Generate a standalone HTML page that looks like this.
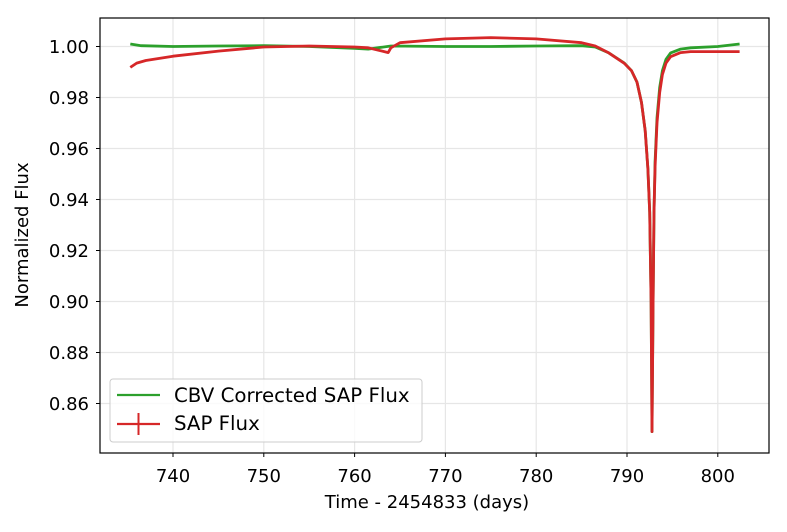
<!DOCTYPE html>
<html><head><meta charset="utf-8"><style>
body{margin:0;background:#fff}
svg text{font-family:"DejaVu Sans","Liberation Sans",sans-serif;fill:#000}
</style></head><body>
<svg width="787" height="527">
<g id="grid"></g>
<g id="series"></g>
<rect x="100" y="18" width="669" height="435" fill="none" stroke="#000" stroke-width="1.2"/>
<g id="ticks"></g>
<text x="427" y="508" font-size="18" text-anchor="middle">Time - 2454833 (days)</text>
<text transform="translate(28,235) rotate(-90)" font-size="18" text-anchor="middle">Normalized Flux</text>
<g>
<rect x="110" y="379" width="312" height="63" rx="3" fill="#fff" fill-opacity="0.8" stroke="#ccc"/>
<line x1="117" y1="395" x2="160" y2="395" stroke="#2ca02c" stroke-width="2.2"/>
<text x="174" y="402" font-size="19.8">CBV Corrected SAP Flux</text>
<line x1="117" y1="424" x2="160" y2="424" stroke="#d62728" stroke-width="2.2"/>
<line x1="138.5" y1="413" x2="138.5" y2="435" stroke="#d62728" stroke-width="2"/>
<text x="174" y="430" font-size="19.8">SAP Flux</text>
</g>
</svg>
<script>
const xTicks=[740,750,760,770,780,790,800];
const yTicks=[0.86,0.88,0.90,0.92,0.94,0.96,0.98,1.00];
const yTickLabels=["0.86","0.88","0.90","0.92","0.94","0.96","0.98","1.00"];
const cbvTime=[735.3,736.5,740,745,750,755,760,761.5,764,770,775,780,785,786.5,788,789.7,790.5,791.1,791.6,792.0,792.3,792.5,792.65,792.75,792.87,792.97,793.1,793.3,793.6,793.9,794.3,794.8,795.9,797,800,802.4];
const cbvFlux=[1.0010,1.0003,1.0000,1.0002,1.0003,1.0000,0.9993,0.9990,1.0002,1.0000,1.0000,1.0002,1.0003,0.9998,0.9975,0.9935,0.9905,0.986,0.978,0.967,0.952,0.935,0.900,0.849,0.900,0.935,0.955,0.972,0.984,0.9905,0.9950,0.9975,0.9990,0.9995,1.0000,1.0010];
const sapTime=[735.3,736,737,740,745,750,755,760,761.5,763.7,764,765,770,775,780,785,786.5,788,789.7,790.5,791.1,791.6,792.0,792.3,792.5,792.65,792.75,792.87,792.97,793.1,793.3,793.6,793.9,794.3,794.8,795.9,797,802.4];
const sapFlux=[0.9918,0.9935,0.9945,0.9962,0.9982,0.9998,1.0002,0.9998,0.9995,0.9976,0.9995,1.0015,1.0030,1.0035,1.0030,1.0015,1.0002,0.9975,0.9934,0.9905,0.986,0.978,0.967,0.952,0.935,0.900,0.849,0.900,0.935,0.953,0.970,0.982,0.9890,0.9935,0.9960,0.9976,0.9980,0.9980];
const NS="http://www.w3.org/2000/svg";
function xs(v){return 173+(v-740)*9.08;}
function ys(v){return 46.5+(1-v)*2550;}
const grid=document.getElementById('grid'),ticks=document.getElementById('ticks'),series=document.getElementById('series');
function mk(t,a,p){const e=document.createElementNS(NS,t);for(const k in a)e.setAttribute(k,a[k]);p.appendChild(e);return e;}
xTicks.forEach(v=>{const x=xs(v);
 const g=mk('line',{x1:x,x2:x,y1:18,y2:453,stroke:'#e6e6e6','stroke-width':1.2},grid);
 
 
 const t=mk('line',{x1:x,x2:x,y1:453,y2:457,stroke:'#000'},ticks);
 
 
 const l=mk('text',{x:x,y:482,'font-size':18,'text-anchor':'middle'},ticks);l.textContent=v;
 
 
});
yTicks.forEach((v,i)=>{const y=ys(v);
 const g=mk('line',{x1:100,x2:769,y1:y,y2:y,stroke:'#e6e6e6','stroke-width':1.2},grid);
 
 
 const t=mk('line',{x1:96,x2:100,y1:y,y2:y,stroke:'#000'},ticks);
 
 
 const l=mk('text',{x:89,y:y+6.5,'font-size':18,'text-anchor':'end'},ticks);l.textContent=yTickLabels[i];
 
 
});
function path(T,F){return T.map((t,i)=>(i?'L':'M')+xs(t).toFixed(1)+','+ys(F[i]).toFixed(1)).join('');}
const pg=mk('path',{d:path(cbvTime,cbvFlux),fill:'none',stroke:'#2ca02c','stroke-width':2.8,'stroke-linejoin':'round'},series);


const pr=mk('path',{d:path(sapTime,sapFlux),fill:'none',stroke:'#d62728','stroke-width':2.8,'stroke-linejoin':'round'},series);


</script>
</body></html>
